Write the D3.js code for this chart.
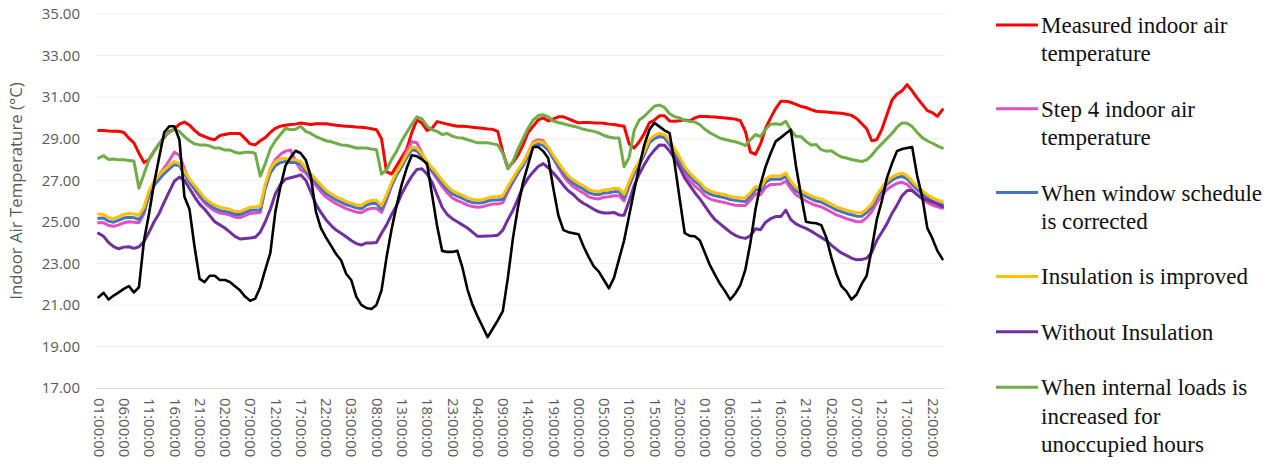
<!DOCTYPE html>
<html lang="en">
<head>
<meta charset="utf-8">
<title>Indoor air temperature</title>
<script src="https://d3js.org/d3.v7.min.js"></script>
<style>
  body { margin: 0; background: #fff; }
  #chart1 svg { display: block; }
</style>
</head>
<body>
<div id="chart1"></div>
<script>

// hourly categories, one label every 5 hours
const tickLabels = ["01:00:00","06:00:00","11:00:00","16:00:00","21:00:00","02:00:00","07:00:00","12:00:00","17:00:00","22:00:00",
  "03:00:00","08:00:00","13:00:00","18:00:00","23:00:00","04:00:00","09:00:00","14:00:00","19:00:00","00:00:00",
  "05:00:00","10:00:00","15:00:00","20:00:00","01:00:00","06:00:00","11:00:00","16:00:00","21:00:00","02:00:00",
  "07:00:00","12:00:00","17:00:00","22:00:00"]

const yTicks = [17, 19, 21, 23, 25, 27, 29, 31, 33, 35]

const measured = [29.39,29.39,29.37,29.36,29.36,29.3,29.03,28.8,28.3,27.85,28.0,28.4,28.75,29.05,29.35,29.45,29.7,29.8,29.65,29.4,29.2,29.1,29.0,28.95,
  29.15,29.2,29.25,29.25,29.25,29.0,28.75,28.7,28.9,29.05,29.3,29.5,29.6,29.65,29.68,29.7,29.75,29.72,29.68,29.72,29.72,29.72,29.68,29.65,
  29.62,29.6,29.58,29.56,29.55,29.52,29.48,29.43,29.0,27.4,27.3,27.7,28.1,28.5,29.3,29.9,29.75,29.4,29.5,29.82,29.76,29.7,29.65,29.6,
  29.6,29.58,29.55,29.52,29.5,29.47,29.45,29.35,28.35,27.6,27.85,28.2,28.7,29.3,29.6,29.9,30.0,29.85,29.95,30.05,30.05,29.95,29.85,29.76,
  29.78,29.78,29.76,29.76,29.74,29.7,29.68,29.63,29.6,28.75,28.55,28.85,29.25,29.76,29.9,30.1,30.1,29.85,29.84,29.86,29.9,29.85,30.0,30.08,
  30.07,30.05,30.04,30.02,30.0,29.97,29.94,29.86,29.35,28.35,28.25,28.75,29.5,30.0,30.45,30.8,30.8,30.75,30.65,30.55,30.5,30.4,30.32,30.3,
  30.28,30.26,30.24,30.22,30.18,30.12,29.97,29.73,29.48,28.9,28.95,29.45,30.15,30.85,31.15,31.3,31.6,31.3,30.95,30.65,30.35,30.25,30.08,30.4]

const step4 = [24.95,24.95,24.82,24.78,24.85,24.95,25.0,24.98,24.95,25.4,26.3,26.85,27.25,27.6,27.95,28.35,28.2,27.55,26.95,26.55,26.2,25.9,25.7,25.52,
  25.42,25.38,25.32,25.22,25.2,25.3,25.4,25.42,25.45,26.7,27.55,28.0,28.25,28.4,28.45,27.9,27.5,27.35,27.0,26.75,26.45,26.2,26.02,25.87,
  25.75,25.63,25.55,25.47,25.43,25.58,25.65,25.65,25.45,26.05,26.75,27.35,27.85,28.4,28.85,28.8,28.3,27.8,27.4,27.05,26.7,26.4,26.15,26.02,
  25.92,25.8,25.73,25.7,25.72,25.8,25.85,25.85,25.92,26.45,26.9,27.35,27.8,28.3,28.85,28.95,28.9,28.55,28.05,27.6,27.2,26.9,26.68,26.52,
  26.38,26.2,26.13,26.1,26.18,26.2,26.25,26.25,26.0,26.7,27.3,27.75,28.25,28.85,29.05,29.15,29.05,28.7,28.25,27.8,27.3,26.98,26.72,26.52,
  26.25,26.1,26.02,25.97,25.92,25.85,25.8,25.78,25.78,26.05,26.35,26.3,26.65,26.8,26.8,26.82,26.95,26.6,26.3,26.15,26.0,25.88,25.78,25.72,
  25.6,25.47,25.33,25.25,25.15,25.08,25.0,25.0,25.2,25.48,25.92,26.25,26.55,26.72,26.85,26.9,26.8,26.55,26.3,26.1,25.92,25.8,25.72,25.65]

const windowFixed = [25.17,25.18,25.03,24.98,25.08,25.18,25.22,25.2,25.1,25.5,26.3,26.75,27.05,27.32,27.55,27.75,27.7,27.3,26.9,26.6,26.3,26.0,25.8,25.65,
  25.55,25.5,25.45,25.35,25.35,25.45,25.55,25.57,25.55,26.6,27.35,27.7,27.85,27.9,27.85,27.85,27.78,27.45,27.15,26.9,26.63,26.37,26.2,26.05,
  25.95,25.83,25.75,25.67,25.63,25.8,25.88,25.88,25.6,26.15,26.75,27.25,27.65,28.1,28.47,28.42,28.13,27.75,27.45,27.17,26.85,26.57,26.35,26.23,
  26.13,26.0,25.93,25.9,25.91,26.0,26.05,26.05,26.08,26.55,26.95,27.35,27.7,28.15,28.65,28.73,28.68,28.45,28.05,27.7,27.35,27.05,26.85,26.7,
  26.57,26.4,26.33,26.3,26.38,26.4,26.45,26.45,26.15,26.8,27.35,27.75,28.25,28.8,29.0,29.1,29.05,28.75,28.35,27.95,27.5,27.2,26.95,26.75,
  26.47,26.33,26.25,26.2,26.15,26.07,26.03,26.0,25.98,26.25,26.55,26.5,26.9,27.05,27.05,27.05,27.18,26.8,26.5,26.35,26.22,26.1,26.0,25.95,
  25.82,25.7,25.57,25.49,25.4,25.34,25.27,25.26,25.45,25.7,26.15,26.5,26.8,27.0,27.13,27.18,27.07,26.8,26.55,26.35,26.15,26.0,25.9,25.82]

const insulationImproved = [25.37,25.35,25.2,25.15,25.25,25.35,25.4,25.38,25.3,25.7,26.5,26.95,27.25,27.5,27.7,27.9,27.8,27.45,27.05,26.75,26.45,26.15,25.95,25.8,
  25.7,25.65,25.6,25.5,25.5,25.6,25.7,25.72,25.75,26.8,27.55,27.9,28.03,28.05,28.0,27.98,27.9,27.58,27.3,27.05,26.78,26.52,26.35,26.2,
  26.1,25.98,25.9,25.82,25.78,25.95,26.03,26.03,25.78,26.3,26.9,27.4,27.8,28.25,28.6,28.55,28.28,27.9,27.6,27.32,27.0,26.72,26.5,26.38,
  26.28,26.15,26.08,26.05,26.06,26.15,26.2,26.2,26.25,26.7,27.1,27.5,27.85,28.3,28.8,28.87,28.82,28.6,28.2,27.85,27.5,27.2,27.0,26.85,
  26.72,26.55,26.48,26.45,26.53,26.55,26.6,26.6,26.32,26.95,27.5,27.9,28.4,28.95,29.15,29.25,29.2,28.9,28.5,28.1,27.65,27.35,27.1,26.9,
  26.62,26.48,26.4,26.35,26.3,26.22,26.18,26.15,26.15,26.4,26.7,26.65,27.05,27.2,27.2,27.2,27.34,26.95,26.65,26.5,26.37,26.25,26.15,26.1,
  25.97,25.85,25.72,25.64,25.56,25.5,25.43,25.42,25.6,25.85,26.3,26.65,26.95,27.15,27.28,27.34,27.22,26.95,26.7,26.5,26.3,26.15,26.05,25.97]

const withoutInsulation = [24.44,24.3,24.0,23.8,23.7,23.78,23.8,23.72,23.8,24.05,24.5,25.0,25.4,25.95,26.45,26.95,27.15,27.0,26.6,26.2,25.85,25.6,25.3,25.0,
  24.85,24.7,24.5,24.3,24.17,24.2,24.22,24.25,24.5,25.0,25.6,26.35,26.8,27.05,27.12,27.18,27.26,27.0,26.45,25.85,25.45,25.1,24.83,24.6,
  24.45,24.28,24.1,23.95,23.88,23.98,23.98,24.0,24.45,24.85,25.35,25.78,26.35,26.8,27.2,27.52,27.55,27.3,26.9,26.3,25.7,25.35,25.15,25.0,
  24.85,24.7,24.5,24.3,24.3,24.32,24.33,24.35,24.6,25.1,25.55,26.1,26.7,27.1,27.4,27.66,27.8,27.6,27.35,27.07,26.75,26.48,26.3,26.05,
  25.88,25.75,25.6,25.48,25.42,25.42,25.45,25.33,25.32,26.0,26.75,27.3,27.75,28.15,28.45,28.7,28.68,28.4,28.05,27.6,27.1,26.75,26.4,26.1,
  25.75,25.4,25.1,24.9,24.7,24.5,24.35,24.25,24.2,24.33,24.66,24.62,24.98,25.15,25.25,25.25,25.56,25.1,24.9,24.78,24.68,24.55,24.4,24.25,
  24.1,23.88,23.68,23.5,23.38,23.25,23.17,23.18,23.25,23.52,24.1,24.5,24.9,25.4,25.8,26.25,26.5,26.5,26.3,26.12,26.05,25.95,25.85,25.73]

const internalLoads = [28.06,28.18,28.0,28.02,27.98,27.98,27.95,27.92,26.62,27.3,28.0,28.4,28.75,29.1,29.3,29.45,29.35,29.1,28.9,28.75,28.7,28.7,28.65,28.55,
  28.55,28.45,28.45,28.35,28.3,28.35,28.35,28.3,27.2,27.8,28.5,28.9,29.2,29.5,29.43,29.45,29.6,29.35,29.25,29.1,29.0,28.9,28.85,28.78,
  28.7,28.68,28.62,28.55,28.55,28.55,28.5,28.47,27.3,27.5,28.0,28.4,28.9,29.3,29.7,30.05,29.95,29.6,29.43,29.35,29.2,29.25,29.12,29.05,
  29.03,28.95,28.88,28.8,28.8,28.8,28.75,28.7,28.3,27.55,27.9,28.5,29.0,29.5,29.9,30.1,30.15,30.05,29.85,29.78,29.72,29.65,29.6,29.53,
  29.45,29.4,29.35,29.28,29.15,29.08,29.03,29.03,27.65,28.1,29.4,29.9,30.08,30.32,30.56,30.62,30.5,30.2,30.06,30.0,29.87,29.84,29.8,29.67,
  29.45,29.28,29.15,29.02,28.96,28.9,28.85,28.77,28.67,28.95,29.2,29.1,29.45,29.7,29.72,29.68,29.84,29.4,29.12,29.1,28.87,28.7,28.72,28.47,
  28.4,28.42,28.25,28.12,28.07,28.0,27.95,27.9,27.98,28.2,28.5,28.75,29.0,29.25,29.55,29.76,29.74,29.58,29.3,29.05,28.9,28.78,28.65,28.55]

// black series, no legend entry
const outdoor = [21.37,21.58,21.26,21.45,21.6,21.77,21.9,21.6,21.85,24.1,25.4,26.85,28.1,29.3,29.6,29.6,28.95,26.2,25.6,23.8,22.25,22.1,22.4,22.4,
  22.2,22.2,22.1,21.9,21.7,21.4,21.2,21.3,21.85,22.7,23.5,25.5,26.7,27.7,28.1,28.42,28.3,27.98,27.2,25.5,24.7,24.25,23.85,23.45,
  23.15,22.5,22.2,21.4,21.0,20.85,20.8,21.0,21.7,23.3,24.65,25.8,26.8,27.6,28.2,28.15,28.0,27.8,26.3,24.8,23.6,23.55,23.55,23.6,
  22.8,21.75,21.0,20.45,19.95,19.45,19.85,20.25,20.7,22.3,24.2,25.7,26.9,27.75,28.6,28.6,28.4,28.06,26.6,25.3,24.6,24.5,24.45,24.4,
  23.8,23.3,22.85,22.6,22.2,21.8,22.3,23.2,24.1,25.3,26.5,27.66,28.7,29.43,29.76,29.58,29.4,29.27,27.8,26.1,24.45,24.32,24.3,24.1,
  23.5,22.9,22.45,22.0,21.65,21.25,21.55,21.95,22.7,24.0,25.6,26.8,27.65,28.3,28.87,29.05,29.25,29.43,27.7,26.3,25.0,24.95,24.93,24.84,
  24.25,23.3,22.5,21.9,21.65,21.25,21.5,22.0,22.4,23.7,25.1,26.0,27.1,27.8,28.4,28.5,28.55,28.6,27.2,26.2,24.7,24.2,23.6,23.2]

const legendNames = [["Measured indoor air","temperature"],["Step 4 indoor air","temperature"],["When window schedule","is corrected"],
  ["Insulation is improved"],["Without Insulation"],["When internal loads is","increased for","unoccupied hours"]]

const series = [
  {values: measured, color: "#ff0000", width: 3},
  {values: step4, color: "#e04fc3", width: 3},
  {values: windowFixed, color: "#4472c4", width: 3},
  {values: insulationImproved, color: "#ffc000", width: 3},
  {values: withoutInsulation, color: "#7030a0", width: 3},
  {values: internalLoads, color: "#70ad47", width: 3},
  {values: outdoor, color: "#000000", width: 2.6, noLegend: true}
]

const chartApp = {}

chartApp.buildChart = () => {
    const W = 1275, H = 464
    const plot = {left: 96, right: 945, top: 14, bottom: 388}

    const svg = d3.select("#chart1").append("svg")
        .attr("width", W).attr("height", H)
        .style("background", "#fff")

    const x = d3.scalePoint()
        .domain(d3.range(measured.length))
        .range([plot.left, plot.right])
        .padding(0.5)

    const y = d3.scaleLinear().domain([17, 35]).range([plot.bottom, plot.top])

    // gridlines
    svg.append("g").selectAll("line")
        .data(yTicks.filter(d => d > 17))
        .join("line")
        .attr("x1", plot.left).attr("x2", plot.right)
        .attr("y1", d => y(d)).attr("y2", d => y(d))
        .attr("stroke", "#efefef").attr("stroke-width", 1)

    // y axis
    const yAxis = svg.append("g")
        .attr("transform", "translate(" + (plot.left - 16) + ",0)")
        .call(d3.axisLeft(y).tickValues(yTicks).tickSize(0).tickFormat(d3.format(".2f")))
    yAxis.select(".domain").remove()
    yAxis.selectAll("text")
        .attr("x", 0)
        .style("font-family", "'Open Sans', sans-serif")
        .style("font-size", "15px")
        .attr("fill", "#595959")

    // x axis
    const xAxis = svg.append("g")
        .attr("transform", "translate(0," + plot.bottom + ")")
        .call(d3.axisBottom(x).tickValues(d3.range(0, measured.length, 5)).tickSize(0)
            .tickFormat(i => tickLabels[i / 5]))
    xAxis.select(".domain")
        .attr("d", "M" + plot.left + ",0.5H" + plot.right)
        .attr("stroke", "#d9d9d9")
    xAxis.selectAll("text")
        .attr("transform", "rotate(90)")
        .attr("x", 10).attr("y", 0).attr("dy", "0.35em")
        .attr("text-anchor", "start")
        .style("font-family", "'Open Sans', sans-serif")
        .style("font-size", "15px")
        .attr("fill", "#595959")

    // y title
    svg.append("text")
        .attr("transform", "translate(22,191) rotate(-90)")
        .attr("text-anchor", "middle")
        .style("font-family", "'Open Sans', sans-serif")
        .style("font-size", "16.8px")
        .attr("fill", "#595959")
        .text("Indoor Air Temperature (°C)")

    // lines
    const line = d3.line()
        .x((d, i) => x(i))
        .y(d => y(d))

    svg.append("g").selectAll("path")
        .data(series)
        .join("path")
        .attr("d", d => line(d.values))
        .attr("fill", "none")
        .attr("stroke", d => d.color)
        .attr("stroke-width", d => d.width)
        .attr("stroke-linejoin", "round")
        .attr("stroke-linecap", "round")

    // legend
    const legend = svg.append("g")
    let ly = 25
    const lineH = 28.4
    series.filter(s => !s.noLegend).forEach((s, k) => {
        const g = legend.append("g").attr("transform", "translate(0," + ly + ")")
        g.append("line")
            .attr("x1", 996).attr("x2", 1038)
            .attr("stroke", s.color).attr("stroke-width", 3)
        const t = g.append("text")
            .attr("x", 1041).attr("y", 8)
            .style("font-family", "'Liberation Serif', 'Times New Roman', serif")
            .style("font-size", "23px")
            .attr("fill", "#111")
        legendNames[k].forEach((txt, j) => {
            t.append("tspan").attr("x", 1041).attr("dy", j === 0 ? 0 : lineH).text(txt)
        })
        ly += legendNames[k].length * lineH + 27
    })
}

chartApp.buildChart()

</script>
</body>
</html>
